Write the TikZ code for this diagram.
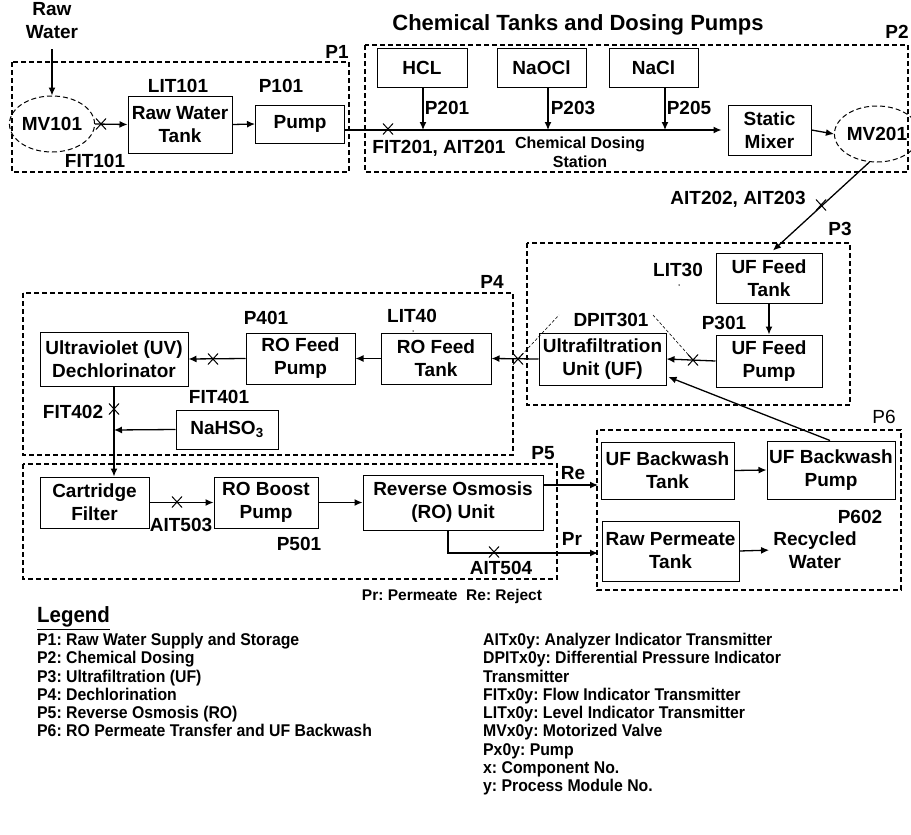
\documentclass[tikz,border=0pt]{standalone}
\usepackage{fontspec}
\setmainfont{Liberation Sans}
\newfontfamily\legfam[FakeStretch=0.93]{Liberation Sans}
\usetikzlibrary{arrows.meta, positioning, shapes.geometric, shapes.misc, calc}
\frenchspacing
\newcommand{\boxfont}{\bfseries\fontsize{19}{23}\selectfont}
\newcommand{\smallfont}{\bfseries\fontsize{16}{19}\selectfont}
\newcommand{\legfont}{\legfam\bfseries\fontsize{17}{18.25}\selectfont}
\tikzset{
  box/.style={
    rectangle,
    draw=black,
    line width=1pt,
    align=center,
    inner sep=1pt,
    font=\boxfont
  },
  valve/.style={
    ellipse,
    draw=black,
    dash pattern=on 5pt off 3pt,
    line width=1pt,
    inner sep=0pt,
    font=\boxfont
  },
  region/.style={
    draw=black,
    line width=1.4pt,
    dash pattern=on 5pt off 3pt
  },
  lbl/.style={
    inner sep=0pt,
    align=center,
    font=\boxfont
  },
  arrow/.style={
    -{Latex[length=8pt,width=7pt]},
    line width=1.3pt
  },
  xmark/.style={
    cross out,
    draw=black,
    line width=1pt,
    minimum width=9pt,
    minimum height=10pt,
    inner sep=0pt
  },
  link/.style={
    line width=0.6pt,
    dash pattern=on 3pt off 2pt
  }
}

\begin{document}
\begin{tikzpicture}[x=1pt, y=-1pt]
    \useasboundingbox (0,0) rectangle (911,835);

    % P1: raw water
    \draw[region] (12,62) rectangle (349,172);
    \node[lbl] (p1) at (337,52) {P1};
    \node[lbl] (rawwater) at (52,21) {Raw\\Water};
    \node[valve, minimum width=66pt, minimum height=56pt] (mv101) at (52,124) {MV101};
    \node[box, minimum width=104pt, minimum height=57pt] (rawtank) at (180,124.5) {Raw Water\\Tank};
    \node[box, minimum width=89pt, minimum height=38pt] (pump101) at (300,124) {Pump};
    \node[lbl] (lit101) at (178,86) {LIT101};
    \node[lbl] (p101) at (281,86) {P101};
    \node[lbl] (fit101) at (95,161) {FIT101};
    \node[xmark] (x101) at (101,124) {};

    \draw[arrow, shorten <=10pt] (rawwater.south) -- (mv101.north);
    \draw[arrow] (mv101.east) -- (rawtank.west);
    \draw[arrow] (rawtank.east) -- (pump101.west);

    % P2: chemical dosing
    \draw[region] (365,45) rectangle (908,172);
    \node[lbl] (p2) at (897,32) {P2};
    \node[lbl, font=\bfseries\fontsize{22}{26}\selectfont] (title) at (578,25) {Chemical Tanks and Dosing Pumps};
    \node[box, minimum width=90pt, minimum height=39pt] (hcl) at (422,67.5) {HCL};
    \node[box, minimum width=89pt, minimum height=39pt] (naocl) at (541.5,67.5) {NaOCl};
    \node[box, minimum width=89pt, minimum height=39pt] (nacl) at (653.5,67.5) {NaCl};
    \node[box, minimum width=83pt, minimum height=50pt] (mixer) at (769.5,130) {Static\\Mixer};
    \node[valve, minimum width=58pt, minimum height=56pt] (mv201) at (877,134) {MV201};
    \node[lbl] (p201) at (447,108) {P201};
    \node[lbl] (p203) at (573,108) {P203};
    \node[lbl] (p205) at (689,108) {P205};
    \node[lbl] (fit201) at (439,148) {FIT201, AIT201};
    \node[lbl, font=\smallfont] (station) at (580,152.5) {Chemical Dosing\\Station};
    \node[xmark] (x201) at (388,129) {};
    \coordinate (d1) at (423,130);
    \coordinate (d2) at (548,130);
    \coordinate (d3) at (665,130);

    \draw[arrow, shorten >=6pt] (pump101.east |- mixer.west) -- (mixer.west);
    \draw[arrow] (hcl.south -| d1) -- (d1);
    \draw[arrow] (naocl.south -| d2) -- (d2);
    \draw[arrow] (nacl.south -| d3) -- (d3);
    \draw[arrow] (mixer.east) -- (mv201.west);

    % P3: ultrafiltration
    \draw[region] (527,243) rectangle (850,405);
    \node[lbl] (p3) at (840,229) {P3};
    \node[box, minimum width=106pt, minimum height=50pt] (ufftank) at (769,278) {UF Feed\\Tank};
    \node[box, minimum width=106pt, minimum height=52pt] (uffpump) at (769,361) {UF Feed\\Pump};
    \node[box, minimum width=127pt, minimum height=52pt] (ufunit) at (602.5,359) {Ultrafiltration\\Unit (UF)};
    \node[lbl] (ait202) at (738,199) {AIT202, AIT203};
    \node[lbl] (lit30) at (678,270) {LIT30};
    \node[circle, fill, inner sep=0pt, minimum size=1.5pt] (dot3) at (679,285) {};
    \node[lbl] (p301) at (724,323) {P301};
    \node[lbl] (dpit301) at (611,320) {DPIT301};
    \node[xmark] (x202) at (821,205) {};
    \node[xmark] (x301) at (693,360) {};
    \node[xmark] (x302) at (518,359) {};
    \coordinate (dl) at (559,315);
    \coordinate (dr) at (653,315);

    \draw[arrow] (mv201.-105) -- ($(ufftank.north)+(4,-2)$);
    \draw[arrow] (ufftank.south) -- (uffpump.north);
    \draw[arrow] (uffpump.west) -- (ufunit.east);
    \draw[link] (x302.center) -- (dl);
    \draw[link] (dr) -- (x301.center);

    % P4: dechlorination
    \draw[region] (23,293) rectangle (513,455);
    \node[lbl] (p4) at (492,282) {P4};
    \node[box, minimum width=110pt, minimum height=51pt] (rotank) at (436,358.5) {RO Feed\\Tank};
    \node[box, minimum width=109pt, minimum height=51pt] (ropump) at (300.5,358.5) {RO Feed\\Pump};
    \node[box, minimum width=148pt, minimum height=54pt] (uv) at (114,359) {Ultraviolet (UV)\\Dechlorinator};
    \node[box, minimum width=102pt, minimum height=39pt] (nahso) at (227,429.5) {NaHSO\textsubscript{3}};
    \node[lbl] (lit40) at (412,316) {LIT40};
    \node[circle, fill, inner sep=0pt, minimum size=1.5pt] (dot4) at (413,331) {};
    \node[lbl] (p401) at (266,318) {P401};
    \node[lbl] (fit401) at (219,397) {FIT401};
    \node[lbl] (fit402) at (73,412) {FIT402};
    \node[xmark] (x401) at (213,359) {};
    \node[xmark] (x402) at (114,409) {};
    \coordinate (nj) at (114,430);

    \draw[arrow] (ufunit.west) -- (rotank.east);
    \draw[arrow] (rotank.west) -- (ropump.east);
    \draw[arrow] (ropump.west) -- (uv.east);
    \draw[arrow] (nahso.west) -- (nj);

    % P5: reverse osmosis
    \draw[region] (23,464) rectangle (557,579);
    \node[lbl] (p5) at (543,453) {P5};
    \node[box, minimum width=109pt, minimum height=51pt] (cart) at (94.5,502.5) {Cartridge\\Filter};
    \node[box, minimum width=104pt, minimum height=51pt] (boost) at (266,502.5) {RO Boost\\Pump};
    \node[box, minimum width=180pt, minimum height=55pt] (rounit) at (453,502.5) {Reverse Osmosis\\(RO) Unit};
    \node[lbl] (ait503) at (181,525) {AIT503};
    \node[lbl] (p501) at (299,544) {P501};
    \node[lbl] (ait504) at (501,568) {AIT504};
    \node[lbl] (re) at (573,473) {Re};
    \node[lbl] (pr) at (572,539) {Pr};
    \node[lbl, font=\bfseries\fontsize{15.5}{18}\selectfont] (prre) at (452,596) {Pr: Permeate\ \ Re: Reject};
    \node[xmark] (x501) at (177,502) {};
    \node[xmark] (x502) at (494,552) {};
    \coordinate (reend) at (598,485);
    \coordinate (prend) at (598,553);

    \draw[arrow] (uv.south) -- (uv.south |- cart.north);
    \draw[arrow] (cart.east) -- (boost.west);
    \draw[arrow] (boost.east) -- (rounit.west);
    \draw[arrow] (rounit.east |- reend) -- (reend);
    \draw[arrow] ([xshift=-5pt]rounit.south) |- (prend);

    % P6: permeate transfer and backwash
    \draw[region] (597,430) rectangle (901,590);
    \node[lbl, font=\fontsize{19}{23}\selectfont] (p6) at (884,417) {P6};
    \node[box, minimum width=133pt, minimum height=57pt] (bwtank) at (667.5,470.5) {UF Backwash\\Tank};
    \node[box, minimum width=128pt, minimum height=58pt] (bwpump) at (831,470) {UF Backwash\\Pump};
    \node[box, minimum width=137pt, minimum height=60pt] (permtank) at (670.5,551) {Raw Permeate\\Tank};
    \node[lbl] (recycled) at (815,550) {Recycled\\Water};
    \node[lbl] (p602) at (860,517) {P602};

    \draw[arrow] (bwtank.east) -- (bwpump.west);
    \draw[arrow, shorten >=4pt] (permtank.east) -- (recycled.west);
    \draw[arrow] ([xshift=-1pt]bwpump.north) -- ($(ufunit.east)+(2,18)$);

    % legend
    \node[lbl, anchor=west, font=\legfam\bfseries\fontsize{22}{24}\selectfont] (legend) at (37,618) {\underline{Legend}};
    \node[lbl, anchor=north west, align=left, font=\legfont] (legleft) at (37,633) {P1: Raw Water Supply and Storage\\P2: Chemical Dosing\\P3: Ultrafiltration (UF)\\P4: Dechlorination\\P5: Reverse Osmosis (RO)\\P6: RO Permeate Transfer and UF Backwash};
    \node[lbl, anchor=north west, align=left, font=\legfont] (legright) at (483,633) {AITx0y: Analyzer Indicator Transmitter\\DPITx0y: Differential Pressure Indicator\\Transmitter\\FITx0y: Flow Indicator Transmitter\\LITx0y: Level Indicator Transmitter\\MVx0y: Motorized Valve\\Px0y: Pump\\x: Component No.\\y: Process Module No.};
\end{tikzpicture}
\end{document}
